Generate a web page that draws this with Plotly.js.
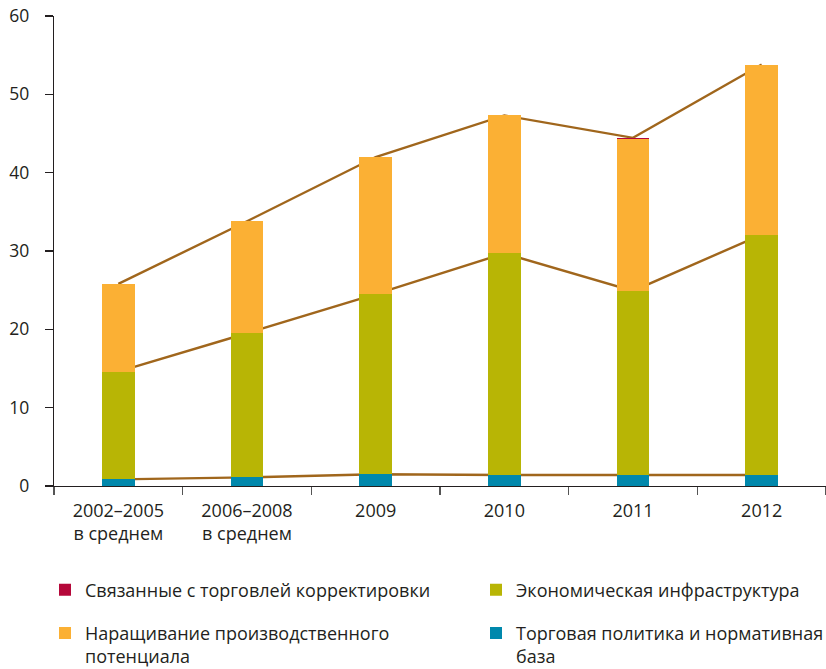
<!DOCTYPE html>
<html>
<head>
<meta charset="utf-8">
<script src="https://cdn.plot.ly/plotly-3.0.1.min.js"></script>
<style>
html,body{margin:0;padding:0;background:#fff;}
#chart{width:826px;height:669px;}
</style>
</head>
<body>
<div id="chart"></div>
<script>
// ---- data ----
var categories = ["2002–2005<br>в среднем", "2006–2008<br>в среднем", "2009", "2010", "2011", "2012"];
var tradePolicy = [0.85, 1.1, 1.5, 1.4, 1.4, 1.4];          // Торговая политика и нормативная база
var economicInfra = [13.75, 18.4, 23.0, 28.3, 23.5, 30.7];  // Экономическая инфраструктура
var productiveCap = [11.2, 14.3, 17.5, 17.6, 19.4, 21.7];   // Наращивание производственного потенциала
var adjustment = [0, 0, 0, 0, 0.15, 0];                     // Связанные с торговлей корректировки

var names = {
  adj: "Связанные с торговлей корректировки",
  infra: "Экономическая инфраструктура",
  prod: "Наращивание производственного<br>потенциала",
  policy: "Торговая политика и нормативная<br>база"
};

var colors = {adj: "#B5083A", infra: "#B8B505", prod: "#FBB034", policy: "#0088AC", line: "#A0661C"};

// cumulative levels for connecting lines
var lvl1 = tradePolicy.slice();
var lvl2 = tradePolicy.map(function(v, i){ return v + economicInfra[i]; });
var lvl3 = lvl2.map(function(v, i){ return v + productiveCap[i] + adjustment[i]; });

var font = "'Open Sans', 'Noto Sans', sans-serif";
var barW = 0.256;

function bar(y, name, color, legend) {
  return {type: "bar", x: categories, y: y, name: name, xaxis: "x2", yaxis: "y2",
    width: barW, marker: {color: color, line: {width: 0}}, legend: legend, hoverinfo: "y"};
}
function line(y) {
  return {type: "scatter", mode: "lines", x: categories, y: y, showlegend: false,
    line: {color: colors.line, width: 2.4}, hoverinfo: "skip"};
}

var traces = [
  line(lvl1), line(lvl2), line(lvl3),
  bar(tradePolicy, names.policy, colors.policy, "legend4"),
  bar(economicInfra, names.infra, colors.infra, "legend2"),
  bar(productiveCap, names.prod, colors.prod, "legend3"),
  bar(adjustment, names.adj, colors.adj, "legend")
];

function leg(x, y) {
  return {x: x, y: y, xref: "container", yref: "container", xanchor: "left", yanchor: "top",
    valign: "top", bgcolor: "rgba(0,0,0,0)",
    font: {family: font, size: 18, color: "#231F20"}, itemclick: false, itemdoubleclick: false};
}

var axisFont = {family: font, size: 18, color: "#231F20"};
var layout = {
  width: 826, height: 669,
  margin: {l: 54, r: 0, t: 16, b: 183, autoexpand: false},
  paper_bgcolor: "#fff", plot_bgcolor: "#fff",
  barmode: "stack",
  showlegend: true,
  xaxis: {type: "category", range: [-0.5, 5.5], showline: true, linecolor: "#231F20", linewidth: 1.3,
    ticks: "outside", tickson: "boundaries", ticklen: 8, tickcolor: "#555", tickwidth: 1.3,
    showgrid: false, zeroline: false, tickfont: axisFont, ticklabelstandoff: 8, fixedrange: true},
  yaxis: {range: [0, 60], dtick: 10, showline: true, linecolor: "#231F20", linewidth: 1.3,
    ticks: "outside", ticklen: 8, tickcolor: "#231F20", tickwidth: 1.3,
    showgrid: false, zeroline: false, tickfont: {family: font, size: 17.5, color: "#231F20"},
    ticklabelstandoff: 12, fixedrange: true},
  xaxis2: {type: "category", overlaying: "x", range: [-0.5, 5.5], visible: false, fixedrange: true},
  yaxis2: {overlaying: "y", range: [0, 60], visible: false, fixedrange: true},
  legend: leg(45 / 826, 0.1457),
  legend2: leg(476 / 826, 0.1457),
  legend3: leg(45 / 826, 0.081),
  legend4: leg(476 / 826, 0.081)
};

Plotly.newPlot("chart", traces, layout, {displayModeBar: false, staticPlot: true});
</script>
</body>
</html>
